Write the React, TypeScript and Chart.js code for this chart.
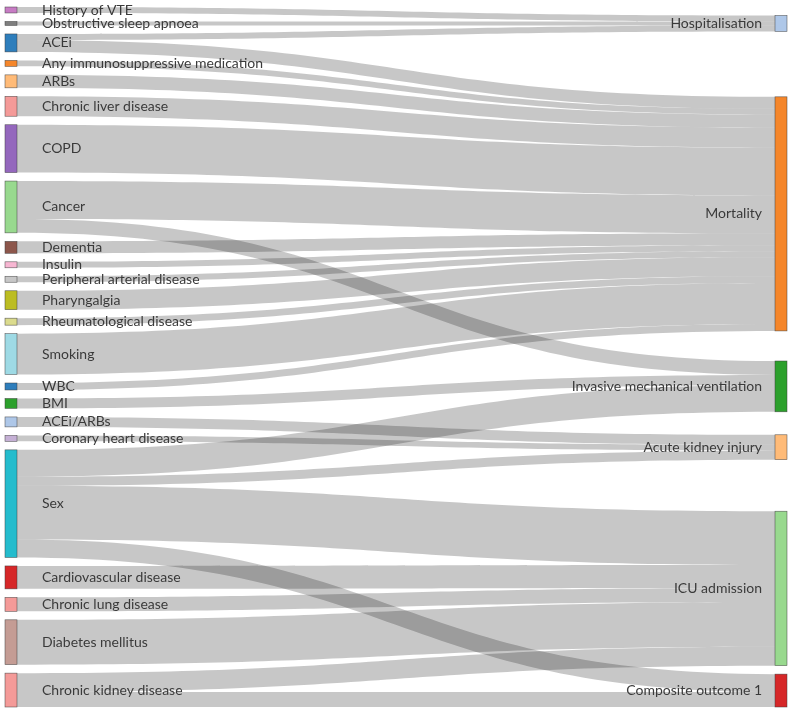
import React, { useEffect, useRef } from 'react';
import { Chart, registerables } from 'chart.js';

Chart.register(...registerables);

// ---------- data ----------
const leftLabels = [
  'History of VTE', 'Obstructive sleep apnoea', 'ACEi', 'Any immunosuppressive medication', 'ARBs',
  'Chronic liver disease', 'COPD', 'Cancer', 'Dementia', 'Insulin', 'Peripheral arterial disease',
  'Pharyngalgia', 'Rheumatological disease', 'Smoking', 'WBC', 'BMI', 'ACEi/ARBs',
  'Coronary heart disease', 'Sex', 'Cardiovascular disease', 'Chronic lung disease',
  'Diabetes mellitus', 'Chronic kidney disease',
];
const rightLabels = [
  'Hospitalisation', 'Mortality', 'Invasive mechanical ventilation', 'Acute kidney injury',
  'ICU admission', 'Composite outcome 1',
];
// links: source (left index) -> target (right index) with value
const linkFrom = [0, 1, 2, 2, 3, 4, 5, 6, 7, 7, 8, 9, 10, 11, 12, 13, 14, 15, 16, 17, 18, 18, 18, 18, 19, 20, 21, 22, 22];
const linkTo = [0, 0, 0, 1, 1, 1, 1, 1, 1, 2, 1, 1, 1, 1, 1, 1, 1, 2, 3, 3, 2, 3, 4, 5, 4, 4, 4, 4, 5];
const linkValue = [6, 4, 6, 12, 6, 13, 20, 48, 38, 14, 12, 6, 6, 19, 7, 41, 7, 10, 10, 6, 27, 9, 54, 18, 23, 14, 45, 19, 15];

// ---------- style ----------
const leftColors = [
  '#c77cc4', '#7f7f7f', '#2e7ebc', '#f5862a', '#ffbb78', '#f49a98', '#9467bd', '#98d98e',
  '#8c564b', '#f7b6d2', '#c7c7c7', '#bcbd22', '#dbdb8d', '#9edae5', '#2e7ebc', '#2ca02c',
  '#aec7e8', '#c5b0d5', '#24bccd', '#d62728', '#f49a98', '#c49c94', '#f49a98',
];
const rightColors = ['#aec7e8', '#f5862a', '#2ca02c', '#ffbb78', '#98d98e', '#d62728'];

const NODE_W = 12;
const NODE_PAD = 8.5;
const CANVAS_W = 793;
const CANVAS_H = 713;
const PADDING = { left: 5, right: 6, top: 7, bottom: 6 };
const PLOT_H = CANVAS_H - PADDING.top - PADDING.bottom;
const LINK_COLOR = 'rgba(0,0,0,0.22)';
const TEXT_COLOR = '#3a3a3a';
const FONT = '14px Lato, "Noto Sans", sans-serif';

const sumLeft = leftLabels.map((_, i) =>
  linkValue.reduce((s, v, k) => (linkFrom[k] === i ? s + v : s), 0));
const sumRight = rightLabels.map((_, j) =>
  linkValue.reduce((s, v, k) => (linkTo[k] === j ? s + v : s), 0));
const totalLeft = sumLeft.reduce((a, b) => a + b, 0);
const padUnits = (NODE_PAD * totalLeft) / (PLOT_H - (leftLabels.length - 1) * NODE_PAD);
const yMax = totalLeft + (leftLabels.length - 1) * padUnits;

function computeLayout() {
  const leftY0: number[] = [];
  let acc = 0;
  sumLeft.forEach((v) => {
    leftY0.push(acc);
    acc += v + padUnits;
  });
  const srcOff: number[] = new Array(linkValue.length).fill(0);
  leftLabels.forEach((_, i) => {
    const ks = linkValue.map((_, k) => k).filter((k) => linkFrom[k] === i).sort((a, b) => linkTo[a] - linkTo[b]);
    let o = leftY0[i];
    ks.forEach((k) => { srcOff[k] = o; o += linkValue[k]; });
  });
  const centers = rightLabels.map((_, j) => {
    let s = 0, w = 0;
    linkValue.forEach((v, k) => {
      if (linkTo[k] === j) { s += (srcOff[k] + v / 2) * v; w += v; }
    });
    return s / w;
  });
  const order = rightLabels.map((_, j) => j).sort((a, b) => centers[a] - centers[b]);
  const rightY0: number[] = new Array(rightLabels.length).fill(0);
  let prevEnd = -padUnits;
  order.forEach((j) => {
    let y0 = centers[j] - sumRight[j] / 2;
    if (y0 < prevEnd + padUnits) y0 = prevEnd + padUnits;
    if (y0 < 0) y0 = 0;
    rightY0[j] = y0;
    prevEnd = y0 + sumRight[j];
  });
  let limit = yMax;
  for (let n = order.length - 1; n >= 0; n--) {
    const j = order[n];
    if (rightY0[j] + sumRight[j] > limit) rightY0[j] = limit - sumRight[j];
    limit = rightY0[j] - padUnits;
  }
  const tgtOff: number[] = new Array(linkValue.length).fill(0);
  rightLabels.forEach((_, j) => {
    const ks = linkValue.map((_, k) => k).filter((k) => linkTo[k] === j).sort((a, b) => linkFrom[a] - linkFrom[b]);
    let o = rightY0[j];
    ks.forEach((k) => { tgtOff[k] = o; o += linkValue[k]; });
  });
  return { leftY0, rightY0, srcOff, tgtOff };
}

const sankeyPlugin = {
  id: 'sankeyDraw',
  afterDatasetsDraw(chart: any) {
    const { ctx } = chart;
    const xs = chart.scales.x;
    const ys = chart.scales.y;
    const L = computeLayout();
    const xL = xs.getPixelForValue(0);
    const xR = xs.getPixelForValue(1);
    const x0 = xL + NODE_W;
    const x1 = xR - NODE_W;
    const xm = (x0 + x1) / 2;
    const py = (v: number) => ys.getPixelForValue(v);

    ctx.save();
    linkValue.forEach((v, k) => {
      const s0 = py(L.srcOff[k]);
      const s1 = py(L.srcOff[k] + v);
      const t0 = py(L.tgtOff[k]);
      const t1 = py(L.tgtOff[k] + v);
      ctx.beginPath();
      ctx.moveTo(x0, s0);
      ctx.bezierCurveTo(xm, s0, xm, t0, x1, t0);
      ctx.lineTo(x1, t1);
      ctx.bezierCurveTo(xm, t1, xm, s1, x0, s1);
      ctx.closePath();
      ctx.fillStyle = LINK_COLOR;
      ctx.fill();
    });
    ctx.lineWidth = 0.6;
    ctx.strokeStyle = 'rgba(60,60,60,0.8)';
    leftLabels.forEach((_, i) => {
      const a = py(L.leftY0[i]);
      const b = py(L.leftY0[i] + sumLeft[i]);
      ctx.fillStyle = leftColors[i];
      ctx.fillRect(xL, a, NODE_W, b - a);
      ctx.strokeRect(xL, a, NODE_W, b - a);
    });
    rightLabels.forEach((_, j) => {
      const a = py(L.rightY0[j]);
      const b = py(L.rightY0[j] + sumRight[j]);
      ctx.fillStyle = rightColors[j];
      ctx.fillRect(x1, a, NODE_W, b - a);
      ctx.strokeRect(x1, a, NODE_W, b - a);
    });
    ctx.font = FONT;
    ctx.fillStyle = TEXT_COLOR;
    ctx.textBaseline = 'middle';
    ctx.textAlign = 'left';
    leftLabels.forEach((t, i) => {
      const c = py(L.leftY0[i] + sumLeft[i] / 2);
      ctx.fillText(t, x0 + 25, c);
    });
    ctx.textAlign = 'right';
    rightLabels.forEach((t, j) => {
      const c = py(L.rightY0[j] + sumRight[j] / 2);
      ctx.fillText(t, x1 - 13, c);
    });
    ctx.restore();
  },
};

export default function App() {
  const ref = useRef<HTMLCanvasElement | null>(null);
  useEffect(() => {
    if (!ref.current) return;
    const chart = new Chart(ref.current, {
      type: 'scatter',
      data: { datasets: [{ data: [], pointRadius: 0 }] },
      options: {
        animation: false,
        responsive: true,
        maintainAspectRatio: false,
        layout: { padding: PADDING },
        plugins: { legend: { display: false }, tooltip: { enabled: false } },
        scales: {
          x: { type: 'linear', min: 0, max: 1, display: false },
          y: { type: 'linear', min: 0, max: yMax, reverse: true, display: false },
        },
      },
      plugins: [sankeyPlugin],
    });
    const fonts: any = (document as any).fonts;
    if (fonts && fonts.load) fonts.load(FONT).then(() => chart.update()).catch(() => {});
    return () => chart.destroy();
  }, []);
  return (
    <div style={{ position: 'absolute', left: 0, top: 0, width: CANVAS_W, height: CANVAS_H }}>
      <canvas ref={ref} />
    </div>
  );
}
